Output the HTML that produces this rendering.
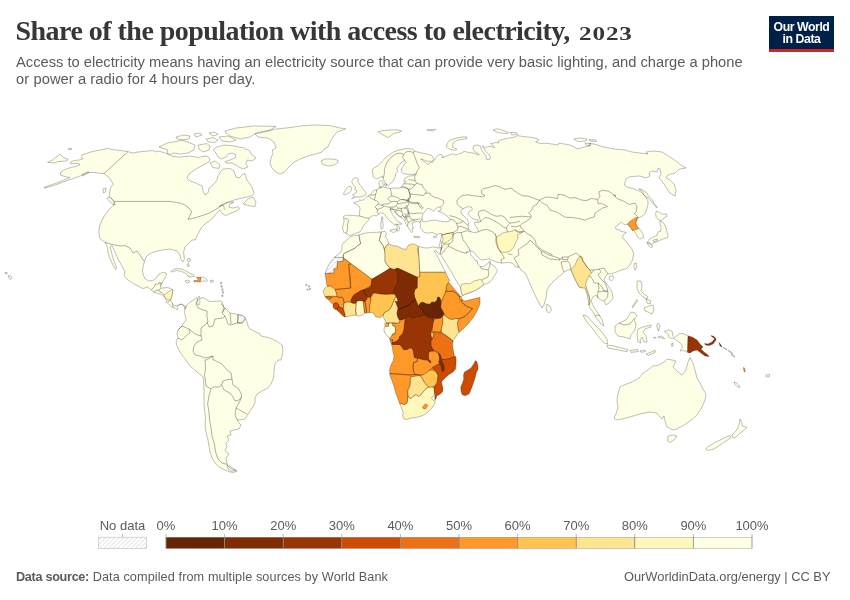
<!DOCTYPE html>
<html><head><meta charset="utf-8">
<style>
html,body{margin:0;padding:0;background:#fff;}
body{width:850px;height:600px;position:relative;overflow:hidden;font-family:"Liberation Sans",sans-serif;}
#title{position:absolute;left:15.5px;top:14.8px;font-family:"Liberation Serif",serif;font-weight:bold;font-size:28px;line-height:32px;letter-spacing:-0.53px;color:#373737;white-space:nowrap;}
#title .os{display:inline-block;font-size:19.8px;letter-spacing:0.7px;transform:scaleX(1.27);transform-origin:0 100%;margin-left:2.4px}
#sub{position:absolute;left:16px;top:53.6px;font-size:14.7px;line-height:17.8px;color:#5b5b5b;white-space:nowrap;}
#sub span{display:block;}
#s2{letter-spacing:0.08px}
#logo{position:absolute;left:769px;top:16px;width:65px;height:33px;background:#002147;border-bottom:3px solid #ce261e;color:#fff;font-weight:bold;font-size:12.3px;line-height:12.1px;text-align:center;letter-spacing:-0.45px}
#logo div{margin-top:5.2px}
#src{position:absolute;left:16px;top:569px;font-size:12.7px;letter-spacing:0.09px;line-height:16px;color:#5b5b5b;white-space:nowrap;}
#src b{font-weight:bold;letter-spacing:-0.32px}
#url{position:absolute;right:19.5px;top:569px;font-size:12.85px;line-height:16px;color:#5b5b5b;white-space:nowrap;}
svg{position:absolute;left:0;top:0}
.lg{font-family:"Liberation Sans",sans-serif;font-size:13px;fill:#5b5b5b}
</style></head><body>
<div id="title">Share of the population with access to electricity, <span class="os">2023</span></div>
<div id="sub"><span id="s1">Access to electricity means having an electricity source that can provide very basic lighting, and charge a phone</span><span id="s2">or power a radio for 4 hours per day.</span></div>
<div id="logo"><div>Our World<br>in Data</div></div>
<svg width="850" height="600" viewBox="0 0 850 600">
<defs><pattern id="hatch" patternUnits="userSpaceOnUse" width="3.2" height="3.2" patternTransform="rotate(45)"><rect width="3.2" height="3.2" fill="#fff"/><line x1="0" y1="0" x2="0" y2="3.2" stroke="#dcdcdc" stroke-width="1.4"/></pattern></defs>
<g stroke="#000" stroke-opacity="0.5" stroke-width="0.5" stroke-linejoin="round" fill="none">
<path fill="#FFFFE5" d="M128,151.6L120,150.4L112,149.6L108,148.4L100,150L92,151.6L86,153.6L82,155L81.6,157.6L83,159L79,160L74,160.6L70.4,162L71,164L77,163.2L80,164.4L76,166.4L69,168L63.6,170L60.6,172.4L60.4,175L65,176.6L70,177.6L66,179.2L58,182.4L50,185.4L44,187.4L44.4,188.2L54,185.4L66,181L76,177.6L82,175.2L88,172.6L94,172.4L99,173.2L104,173.6L107,176L110,178.4L112,182L113,184.4L111,187L110,190L109.6,193L109.2,196.4L112,199L114.4,201.4L113.6,205L109.6,209L105.6,214L102,220L99.6,226L98.8,232L99.6,238L101.4,240L105,242L107,246L108,252L109.6,258L112,263L114,267L116,269.6L116.4,267L114.4,262L112.4,256L111,250L110,247L112,245.6L115,252L118,259L122,266L125,272L124,276L128,280L134,284L139,286.5L143,288.5L147.5,287L151.5,290L154,292.2L158,293.5L162,294.8L164,296.5L166,299.5L166.5,302.5L169.5,304.5L171.5,307L173,307.5L175,308L177,310L178,309L177,307L179,305L181.5,304.5L184,306L185,309L186,306.5L184,305.3L181.5,304L179,304.6L176.5,305.8L174,305.5L172.5,303.5L171.5,301.5L170.5,300L171.5,297L172.5,293L173,290L171,288.5L167,287.5L163,288L161.5,288.2L160.5,286.5L162,284L163,281L165,278L166.5,275L166,273L162.5,272.5L159,274L157,277L155,279.5L152.5,280.5L148.5,281L145.5,279L143.5,276L142.5,271L143,267L143.5,265L144.4,261.6L146,257L149,254L154,252L160,250.4L170,249L177,251L180,255L181,260L183,262L184.4,259L183.6,252L185,247L189,243L192,240L195,240L197,236L199,232L201,228L205,224L209,221L213,218L216,214L220,210L222.4,213.6L225.6,215.6L230,213.6L236,211L239.6,209L238.4,206.6L233,208L229,207L230,204L234,202L228,202.4L223,205L219,206.4L224,203.6L234,200L240,198.6L247,197L252,195.6L254,193L252,187L247,180L245,173.6L243,174L239,178L236,177L234,171L230,168.4L223,169L221,171L218,176L217,180L213,185L209,188L208,193L205,195L203,191L202,186L196,183L190,181L187,178L189,174L196,169L203,165L209,162L210,159L207,156L203,156.4L198,157.4L190,156L178,157.2L170,155.6L168,154L162,152L158,151L155,152L153,150.4L150,150.8L144,151.4L138,152L132,153ZM47.6,162.4L52.4,160L60,154L64,158L68,159L67,161L58,161.6L55,163ZM68,149L71,148L72,149.2L69,150ZM107,198L109.6,197L114,201.6L115,205L112.4,204L109,201ZM103,189L106,188L105.6,192L103.6,193ZM82,174.4L88,171.6L89,172.4L83,176ZM159,147L166,143.6L170,142.4L176,141.6L182,140L190,143L195,145L194,150L188,153L180,154L174,153L170,154.4L167,153L168,150L162,148ZM176,137L184,135L190,136L189,139L182,140L177,139ZM194,134L200,133L202,135L196,137ZM206,139L213,137.6L218,140L215,142.4L208,142ZM209,133L215,132L218,134.4L213,136ZM198,145L207,143.6L210,146L209,150L203,152L199,149ZM225,131L236,128L254,126L276,126.4L270,130L256,133L250,137L240,139L230,136L226,133ZM219,137L228,136L236,140L230,142L222,141ZM217,147L224,145L234,146L244,148L250,151L251,154L256,158L252,161L247,160L246,164L248,167L243,169L239,167L236,165L232,163L226,163L225,161.6L230,160L235,158L236,155L232,153L228,154L226,157L221,159L218,157L216,153L213,150ZM210,163L215,161L220,165L219,168.4L213,167.6ZM255,134L264,132L276,129L290,127.6L300,126L314,125L330,125.6L340,128L345.62,128.75L342.5,130.25L337,132L333,137L330,142L328,147L324,149L322,152L316,154L308,156L300,159L293,163L288,168L284,172.4L280,174L275,171.6L272,168L270,163L271,158L273,153L272.4,150L276,148L274,142L268,138L258,137ZM321,161L325,159L332,159L337.6,160L338,162.4L334,165L328,166L323,164.4ZM243,204L248,199L253,197L256,202L255,206.4L250,206L247,205ZM171,271.5L173,269.5L177,268.5L182,269L186,271L190,273.5L194,275L194.5,276.5L191,276.8L188,276.5L187,274.5L184,272.5L180,271L176,270.5L173,272ZM185,281L187.5,280.2L189.8,281L189,282.5L186.5,282.8ZM200.53,277.34L203.36,277.06L206.18,279.18L207.59,280.41L206.18,281.3L202.65,281.01L200.18,282L200,281.82L200.6,279.18ZM210,280.5L213,280.2L213.8,281.5L211,282.5ZM187,259L190,258.4L190.4,261L188,261.6ZM187,264L189,263.6L189.2,266.4L187.6,266.4ZM8.4,275.6L11,276L12,278L10,279.6L8.8,278ZM5,272.6L7,272.4L7.2,274L5.6,274ZM185,309L186,307L187.5,304.5L190,302L194,299.5L198,297L199.5,296.5L200,298L198,299.5L197,302L197.5,304.5L199,305L200,302.5L199.5,300L201,298L203,297.5L206,299.5L210,301.5L221,301L223,303L221,304L225,308L230,313L236,314L241,315L245,317L247,322L248,326L250,329L256,332L260,334L261,336L270,338L278,342L282,345L283,350L282,356L281,360L278,360L275,364L274,370L273.6,378L271,384L268,388L262,391L257,394L255,398L255,403L252,408L249,412.4L247,416L245,419L240,420L237,419.6L239,423L241,425L239,429L234,430L230,431L231,435L227,436L229,440L226,443L227,447L225,450L227,453L229,454L226,458L227,464L231,467L237,471L234,472.4L230,472L224,469.6L219,467L215,463L212,458L210,452L209,446L208,440L206.4,434L205,426L205.6,418L204.4,410L204,400L204,390L203.6,380L203,377L196,371L190,366L186,360L183.6,357L180,352L177,346L176,342L178,338L177,334L178,330L182,326L186,320L185,314L184.5,313ZM227,465L230,468L236,470.6L231,471L228,469ZM614,418L616,420L622,419L630,417L640,414L650,412L657,413L660,417L662,419L664,416L665,421L667,427L673,430L677,429L684,425L690,421L696,416L701,409L705,400L706,394L703,389L700,383L697,378L695,370L693,363L690,357.6L688,362L686,370L682,375L677,371L673,367L676,361L672,360L667,359L664,362L659,365L653,366L648,370L643,373L639,378L632,382L624,385L620,387L618,394L617,400L618,408L616,414ZM668,436L673,435L677,436L674,440L670,442.4L667.6,441ZM732,435L736,431L739,425L740,419L741.6,422L742.4,426L747,427.4L743,431L739,434L736,437L733,438ZM705.6,449L709,446L716,442L724,438L730,435.6L731,437.6L726,441L720,445L714,449L708,450.6ZM734,382L737,383L740,387L738,387.4L735,384.4ZM766,375L769.6,374.4L769.2,376.8L766.4,377ZM688.34,335.82L685.17,334.41L682.34,333.49L679.52,333.7L677.76,335.11L675.99,336.52L674.58,337.58L673.17,336.17L672.46,335.11L672.82,332.64L671.76,330.88L668.93,329.96L666.11,330.88L664.35,331.58L666.82,333.35L668.93,335.11L667.88,336.17L669.64,337.58L671.05,338.64L673.17,338.29L674.93,338.99L677.4,341.11L680.23,342.88L681.99,345.35L682.34,347.82L680.58,349.93L680.23,350.99L683.05,350.64L685.52,350.99L687.28,352.05ZM723,347.6L725,348L727,349.6L725,349.2ZM728,350.4L731,351.6L732.4,353.6L730,352.4ZM731,354L733.6,355L735,357L732.4,356ZM220.4,282.2L221.6,282.2L221.6,283.8L220.4,283.8ZM221,285.6L222.2,285.6L222.2,287.2L221,287.2ZM221.8,288.8L223,288.8L223,290.4L221.8,290.4ZM222.4,291.6L223.6,291.6L223.6,293.2L222.4,293.2ZM221.8,294.8L223,294.8L223,296.4L221.8,296.4ZM305.8,284.4L307,284.4L307,285.6L305.8,285.6ZM308.4,285.8L309.6,285.8L309.6,287L308.4,287ZM309.4,288.4L310.6,288.4L310.6,289.6L309.4,289.6ZM307,289L308.2,289L308.2,290.2L307,290.2ZM343.75,232.5L342.5,227.5L343.76,223.04L344.18,220.53L343.34,218.44L343.76,216.35L344.18,215.94L347.52,215.1L352.53,215.52L356.71,215.77L359.21,215.94L359.63,211.76L360.05,208.42L358.8,205.91L356.71,204.24L354.2,203.4L353.78,202.57L356.29,201.73L358.8,201.32L359.63,199.64L360.89,200.48L363.81,199.64L365.9,197.56L367.99,195.89L370.49,194.63L372.16,192.13L373.83,190.46L376.76,189.62L378.43,188.78L379.68,187.11L379.26,185.03L378.85,182.94L379.68,181.27L381.77,180.43L383.02,181.68L382.61,183.77L383.44,185.44L382.19,186.7L384.28,187.53L387.2,187.95L390.13,188.37L393.75,188.12L398.75,188.12L401.88,187.5L402.5,185L405,182.5L406.25,181.25L403.75,181.25L405,178.12L408.12,176.25L413.12,175.62L416.25,173.75L413.75,174.38L408.12,174.38L403.75,173.75L401.25,171.88L401.88,168.12L403.75,165L406.25,162.5L405,160.62L401.88,161.88L399.38,165L396.88,168.12L397.5,171.88L395.62,173.75L395,177.5L393.12,181.25L390,183.75L388.12,185.62L385.62,183.75L383.75,180L383.12,178.12L382.5,176.25L380,177.5L376.25,178.75L373.12,176.88L372.25,170L373.75,168.12L378.12,165.62L381.88,161.88L385,158.12L388.75,155L393.75,151.88L398.75,150L403.75,149L408.75,148.5L413.12,149.38L415,151.25L420,152.75L426.25,153.75L431.88,155.62L433.75,158.75L432.5,161.25L427.5,161.25L422.5,159.38L420.62,158.75L423.75,161.25L426.25,163.12L428.75,164.38L430,162.5L433.12,161.88L436.25,157.5L438.12,155L441.25,154.38L443.12,156.88L441.88,157.5L445,156.88L449.38,155L453.12,153.75L455,155L458.75,154L463.12,152.5L463.75,151.25L468.75,152.5L473.75,153.12L478.12,155L479.38,154.38L475,151.88L472.75,149L473.75,145.62L477.5,145L480.62,146.25L481.25,150L483.75,153.12L486.25,156.25L486.5,159.38L489.38,159.75L490.62,156.88L488.12,153.75L485.62,151.25L483.75,148.12L482.5,145.62L485.62,148.12L486.88,146.88L490,146.25L494.38,147.5L492.5,145L490.62,143.5L496.25,142.5L498.75,143.12L498.12,141.25L502.5,139.38L508.12,138.12L513.75,137.5L517.5,135.62L521.25,136.25L526.25,136.88L532.5,137.5L537.5,138.75L538.75,140L535.62,141.88L538.75,143.12L542.5,143.5L546,143.12L558,145L559,143L570,145L578,149L584,147L590,146L589,143.6L594,144L604,147L614,149L625,150L632,152L640,153L648,154L646,152L654,151L662,152L670,157L676,161L680,164.4L686,168L680,169L678,170L675,173L668,175L666,178L670,180L674,184L676,190L675,196L670,193L667,189L664,184L661,180L659,178L661,174L660,169L658,168.4L657,172L652,171L649,173L650,176L646,178L640,176L630,176.6L626,179L624.4,185L627,187L635,189L641,192L646,197L648,201L648,204L646.88,208.75L645,213.75L641.25,216.88L638.12,217.5L636.88,220L635.62,223.12L636.88,226.25L638.75,228.12L641.25,231.25L643.5,235L643.75,237.5L640,239L637.5,236.88L635.62,233.12L633.75,230.25L632.5,230.62L630.62,227.5L628.75,225.62L627.5,224L625,225L622.5,223.12L621.25,221.88L618.75,224.38L615,227.25L616.25,229.38L620,230L620.62,231.25L623.75,231.88L626.25,232.5L623.12,235L622.5,238.12L625,240L628.75,245L631.88,248.75L633.75,253.75L632.5,260L630,265L626.25,268.75L621,270L614,273L608,274L605,277L604,280L606,283L609,287L612,292L613,298L610,302L606,305L604,301L601,300L598,298L596,295L593,297L591,301L593,305L595,309L598,313L600,316L603,322L603.6,326L601,324L598,320L595,316L593,312L590,308L589,305L590,301L589,296L587,290L585,285L583,288L579,287L577,283L574,277L572.4,273L571,269.6L568,270L564,272L561,275L556,279L550,285L547,290L546,298L544,305L542,308L539,303L535,295L531,286L528,279L525,273L521,270L518,265L518.75,267.5L515,266.25L512.5,263.12L507.5,262.5L501.25,263.12L496.25,261.88L491.25,260L490,258.75L486.25,259.38L481.25,260L477.5,256.88L473.75,251.88L470,250.62L470.62,254.38L473.75,258.75L476,261.25L476.25,260.38L477.5,261.25L477.5,263.75L478.75,265L480,266.25L483.12,266.88L487.5,263.75L490,260.62L490.62,263.75L495,266.88L497.5,270.62L495,275L492.5,278.75L489.38,282.5L483.75,284.75L480,287.5L475,290.62L470,292.5L465,294.38L462.5,295.62L461.5,292.5L460.62,287.5L458.12,283.75L455,278.75L452.5,273.75L449.38,268.75L446.25,263.75L443.12,258.75L440.62,254.38L438.75,248.12L440,242.5L441.25,237.5L441.88,233.12L440,233.75L436.25,234.38L432.5,232.5L427.5,233.12L423.12,231.88L421.88,229.38L420,226.88L420.62,223.75L420,222.5L418.12,221.25L415,221.88L411.88,223.12L412.5,225.62L413.75,228.12L411.88,228.75L413.12,231.25L411.25,232.5L409.38,229.38L407.5,226.25L405.62,223.75L405,220.62L403.12,218.75L400,216.25L396.88,213.75L393.75,210.62L392.5,208.12L390,209L391.25,211.25L392.5,214.38L395,218.12L397.5,221.25L401.25,223.12L401.88,224.38L398.75,224L395.62,225.25L397.75,227.25L396.88,229.38L398.12,231.5L399.75,229.38L399,226.5L396.88,224L394.3,224.71L391.8,222.62L389.29,220.53L386.78,217.61L385.11,215.1L383.44,213.43L380.94,213.01L378.43,214.26L376.76,215.94L373.83,215.52L371.33,216.35L369.24,218.02L368.82,220.11L366.73,222.2L364.64,224.29L363.12,226.25L361.88,229.38L360,231.88L356.25,233.12L351.88,235L349.38,235.62L347.5,233.75L345.62,233.12ZM351.7,198.81L353.78,197.56L356.71,197.14L360.89,196.72L365.06,195.47L366.32,192.96L365.06,191.71L363.81,190.04L362.56,188.37L361.3,186.28L359.63,184.61L358.8,182.52L357.54,180.85L358.8,179.18L356.71,177.92L354.2,177.92L352.53,179.59L351.7,182.1L352.95,184.19L354.2,185.86L355.46,187.53L354.62,189.62L356.71,190.46L356.29,192.54L353.78,193.8L352.53,195.05L354.62,195.89L353.37,197.14ZM343.34,194.21L344.59,191.71L346.27,188.78L348.35,186.7L350.44,186.28L351.7,187.95L351.28,190.46L350.03,192.13L347.94,193.38L345.43,194.63ZM390,230L393.75,229.38L396.88,229L396.25,231.25L393.75,232.5L390.62,231.5ZM380.94,221.78L382.61,221.37L383.27,225.13L382.77,228.47L381.35,229.3L380.77,225.96ZM381.35,217.19L382.61,216.77L383.02,220.11L381.77,220.78ZM384.28,184.19L386.37,183.77L386.78,185.86L385.11,186.28ZM433.12,236.88L436.25,235.62L436.88,236.88L434.38,238.12ZM413.75,236.25L419.38,236.5L419.38,237.75L414.38,237.5ZM378.12,131.88L382.5,130.62L390,130L396.25,129.75L401.88,131L398.75,132.5L395,133.12L392.5,134.38L390,136.25L387.5,137.5L384.38,135.62L380.62,133.75ZM426.88,129.75L435.62,129.38L433.75,131L428.75,130.62ZM446.25,146.88L447.5,143.12L450,140L456.25,138.12L462.5,136.88L466.88,136.88L466.88,138.5L461.88,139.38L456.25,140.62L453.12,143.12L452.5,146.88L456.88,149.38L455,150.25L450,149.38ZM493.12,130L497.5,128.75L503.75,130.62L508.75,132.5L507.5,133.5L501.25,133.12L496.25,131.88ZM510,132.5L516.25,132.5L517.5,134.38L511.88,135ZM574,139L580,138L587,139L586,141L578,141.6ZM589,139.6L596,140L596.4,141.6L590,141ZM585,143L591,143.6L590,145.6L586,145ZM643.75,195L647.5,197.5L651.25,201.25L654.38,205L656.88,208.12L657.5,207.5L654.38,203.75L652.5,200L648.75,196.25L646,192L642,189.6L639,189L643,192ZM656.25,211.25L658.75,211.88L662.5,214.38L666.25,213.75L666.88,216.25L663.75,218.12L661.25,220.62L658.75,220L656.25,217.5L655.62,213.75ZM547,304L550,306L551.6,310L549,313L546.4,311ZM634.38,263.5L636.25,263.12L636.5,267.5L635.25,270.25L633.75,267.5ZM609.4,276.4L613,275.6L614,278.4L611.6,280.8L609.2,279.2ZM583,315L587,316L594,324L602,332L607,339L607.6,344L604,343L598,336L592,328L586,321ZM607,345L614,346L622,348L628,349.6L627,351.6L618,350L608,348ZM615,326L619,323L626,320L631,312L635,313L637,316L634,319L636,324L635,330L631,335L630,339L624,337L618,336L615,332ZM638,329L643,327L651,325L651,327L645,329L643,332L646,336L647,342L644,342L642,337L640,340L641,343L638,342L637,335ZM637,281L641,281L642,286L641,291L644,294L648,297L647,299L643,297L639,293L637,288ZM644,308L649,306L653,305L654,310L652,314L648,312L645,311ZM646,299L651,301L650,304L647,303ZM632,307L637,299.6L637.6,300.4L633,307.6ZM630,350.4L638,349.6L638.4,351.6L631,352.4ZM640,351L645,350L645.6,351.6L641,352.4ZM646,354L655,350.4L655.6,352L648,355.6ZM656.94,324.17L658.7,323.47L659.76,325.59L659.41,327.7L658.49,331.23L657.64,329.11L656.94,327ZM658.35,336.52L661.17,336.17L663.64,337.23L664.56,338.64L661.88,337.94L658.7,337.72ZM653.41,337.23L656.23,337.44L655.17,338.64ZM671.62,343.58L673.17,343.23L673.03,346.05L671.76,346.4ZM660,221.25L662.5,221.88L665,225L666.25,229.38L668.12,235L667.5,237.5L663.75,238.75L660,240.25L656.88,241.88L654.38,242.5L651.88,244.38L650,243.12L647.5,242.5L649.38,239.38L653.12,236.88L656.88,235.62L658.12,231.88L660.62,231.25L661.25,227.5L660,224.38ZM646.88,242.5L649.38,243.75L651.88,245L652.5,246.88L650.62,247.5L648.75,245.62ZM653.12,240.25L657.5,239L657.25,240.62L653.75,241.88Z"/>
</g>
<g stroke="#000" stroke-opacity="0.5" stroke-width="0.5" stroke-linejoin="round" fill="none">
<path fill="#E8821E" stroke="none" d="M323.77,291.08L324.66,293.76L324.66,293.76L325.6,296.12L325.65,296.26L325.68,296.41L325.7,296.54L326.93,297.93L328.64,298.79L328.77,298.86L328.88,298.94L328.99,299.03L329.08,299.12L329.17,299.23L330.53,301.04L330.53,301.04L333.26,303.77L333.36,303.88L333.45,304L333.52,304.12L333.59,304.26L333.64,304.4L333.67,304.54L333.69,304.68L333.7,304.83L333.7,306.77L334.96,308.45L336.7,309.32L336.82,309.34L336.96,309.38L337.1,309.44L337.24,309.51L337.37,309.6L337.48,309.69L339.96,311.97L340.01,312.02L342.95,314.96L345.01,316.36L345.05,316.34L345.18,316.3L345.32,316.27L347.85,315.82L347.86,315.81L351.76,314.84L351.89,314.81L352.02,314.8L355.77,314.52L355.92,314.51L356.06,314.52L356.21,314.55L356.35,314.58L356.49,314.64L356.62,314.7L356.74,314.78L356.86,314.87L356.86,314.88L358.96,315.46L361.69,314.37L364.04,312.96L364.09,312.9L364.2,312.8L364.31,312.72L364.44,312.65L364.56,312.58L364.7,312.53L364.83,312.5L364.98,312.47L366.42,312.3L366.42,312.31L366.53,312.29L366.66,312.3L369.31,311.82L369.44,311.81L369.57,311.8L371.73,311.8L371.87,311.81L372.01,311.83L372.14,311.86L372.27,311.9L372.4,311.96L372.52,312.02L372.63,312.1L374.29,313.35L374.41,313.44L374.51,313.54L374.6,313.65L374.68,313.77L375.98,315.94L378.1,316.79L380.71,316.53L381.56,315.8L381.68,315.71L381.8,315.64L381.93,315.57L382.07,315.52L382.21,315.48L382.35,315.46L382.49,315.44L382.64,315.45L382.78,315.46L382.93,315.5L383.06,315.54L383.2,315.6L383.32,315.67L383.44,315.75L383.55,315.84L383.66,315.95L383.75,316.06L383.83,316.18L383.89,316.31L383.95,316.44L383.99,316.58L384.16,317.25L385.41,319.65L385.46,319.75L386.47,322.11L386.52,322.25L386.55,322.39L386.58,322.54L386.59,322.69L386.58,322.83L386.56,322.98L386.53,323.12L386.48,323.26L386.41,323.4L386.34,323.53L386.25,323.65L386.15,323.76L386.04,323.86L385.92,323.94L385.8,324.02L385.66,324.08L385.61,324.11L385.84,325.59L385.86,325.74L385.86,325.89L385.85,326.04L385.82,326.19L385.77,326.34L385.72,326.48L385.64,326.61L385.56,326.73L385.46,326.85L385.4,326.91L384.71,329.09L384.87,331.52L385,331.61L385.11,331.72L385.22,331.83L385.31,331.96L387.06,334.57L387.06,334.58L389.93,337.93L390.02,338.04L390.1,338.16L390.16,338.29L390.21,338.43L390.66,339.76L390.68,339.82L391.6,343.04L391.64,343.07L391.75,343.17L391.85,343.28L391.94,343.4L392.02,343.53L392.08,343.66L392.13,343.8L392.17,343.94L392.19,344.09L392.2,344.13L392.21,344.18L392.21,344.32L392.21,344.44L393.16,347.75L393.18,347.86L393.2,347.97L393.69,351.87L393.69,351.87L394.64,355.69L394.67,355.82L394.68,355.96L394.69,356.1L394.68,356.24L394.21,359.95L394.18,360.12L394.13,360.28L394.06,360.44L391.65,365.26L390.21,370.05L390.58,372.6L390.59,372.75L390.59,372.9L390.58,373.04L390.55,373.19L390.5,373.33L390.44,373.47L390.37,373.6L390.29,373.72L391.16,376.77L391.16,376.78L393.14,381.72L393.17,381.8L395.15,387.75L395.19,387.86L396.67,393.78L396.67,393.79L398.65,398.73L398.66,398.76L400.15,402.75L400.15,402.75L401.15,405.23L401.15,405.23L402.63,408.68L402.68,408.84L403.81,412.59L403.85,412.75L403.87,412.9L403.87,413.06L403.86,413.21L403.83,413.37L403.24,415.91L404.47,418.37L406.93,418.78L410.66,417.38L410.78,417.34L410.91,417.31L411.03,417.29L415.88,416.81L415.88,416.81L419.77,415.84L424.15,413.89L427.55,411.46L430.47,408.54L430.47,408.54L433.38,404.65L434.49,401.89L434.35,399.92L434.35,399.77L434.36,399.62L434.38,399.47L434.43,399.33L434.48,399.19L434.55,399.06L434.63,398.93L434.73,398.82L434.83,398.71L434.95,398.61L435.07,398.53L435.2,398.46L435.34,398.4L435.39,398.39L435.74,396.29L435.77,396.15L435.81,396.01L435.87,395.88L435.94,395.76L436.02,395.64L436.1,395.53L436.2,395.43L436.31,395.34L436.43,395.26L436.55,395.19L439.11,393.91L441.85,391.63L442.29,389L441.82,386.17L440.91,383.44L440.87,383.31L440.85,383.17L440.83,383.03L440.83,382.88L440.85,382.74L440.88,382.6L441.27,381.05L441.31,380.92L441.36,380.79L441.42,380.67L441.49,380.56L441.57,380.45L441.66,380.35L444.49,377.52L444.56,377.46L448.49,374.02L448.58,373.94L448.68,373.87L452.53,371.47L454.82,368.72L455.1,365.94L455.1,365.94L455.5,360.02L455.18,357.2L455.16,357.2L455.01,357.19L454.86,357.17L454.72,357.14L454.58,357.09L454.45,357.02L454.32,356.95L454.2,356.86L454.1,356.76L454,356.65L453.91,356.53L453.83,356.41L453.77,356.28L453.72,356.14L453.68,355.99L452.32,349.17L452.3,349.06L451.82,345.19L451.81,345.06L451.81,344.94L451.82,344.81L452.28,341.1L452.31,340.96L452.34,340.83L452.39,340.7L452.45,340.57L452.52,340.45L457.85,332.46L457.94,332.34L458.04,332.23L458.16,332.13L458.28,332.04L458.41,331.96L458.55,331.9L458.67,331.86L462.52,328.49L462.52,328.49L467.48,323.53L467.48,323.53L472.42,317.6L476.37,310.69L476.37,310.68L479.3,303.86L479.3,298.33L477.14,298.69L477.14,298.69L465.46,301.61L465.31,301.64L465.16,301.65L465.01,301.65L464.85,301.63L464.71,301.6L464.56,301.55L464.42,301.49L462.05,300.31L461.93,300.24L461.81,300.16L461.7,300.07L461.6,299.97L461.52,299.86L461.44,299.74L461.37,299.62L461.31,299.49L461.27,299.35L461.24,299.21L460.92,297.27L460.87,297.26L460.72,297.24L460.58,297.19L460.45,297.14L460.32,297.07L460.2,296.99L460.08,296.9L459.98,296.79L459.88,296.68L458.95,295.44L458.95,295.44L452.97,288.46L452.96,288.44L450.47,285.45L450.45,285.43L448.52,283.02L448.43,282.9L448.36,282.77L448.3,282.64L448.25,282.5L448.22,282.35L448.2,282.2L448.19,282.05L448.2,281.91L448.23,281.76L448.27,281.61L448.32,281.48L448.39,281.34L448.47,281.22L448.92,280.58L446.67,276.64L446.58,276.46L444.99,272.55L444.98,272.54L442.5,267.83L442.49,267.8L439.38,261.58L439.38,261.58L436.27,255.97L434.24,252.42L434.18,252.29L434.12,252.15L434.08,252.01L434.06,251.86L434.05,251.71L434.05,251.56L434.07,251.42L434.1,251.27L434.15,251.13L434.21,251L434.28,250.87L434.37,250.75L434.47,250.63L434.58,250.53L434.7,250.44L434.82,250.36L434.96,250.3L435.1,250.25L435.24,250.21L435.39,250.19L435.53,250.18L435.68,250.18L435.83,250.2L435.97,250.24L436.11,250.29L436.25,250.35L436.38,250.43L436.5,250.52L436.61,250.62L439.19,253.2L439.94,251.67L440.41,248.43L439.14,248.74L439.01,248.77L438.87,248.79L438.72,248.79L438.58,248.77L438.45,248.75L438.31,248.71L436.72,248.18L432.54,247.59L427.81,248.76L427.68,248.79L427.54,248.81L427.4,248.81L427.27,248.8L422.48,248.2L422.36,248.18L422.25,248.16L418.03,246.95L417.91,246.91L417.78,246.86L417.67,246.8L414.75,245.05L411.39,244.48L408.66,246.12L407.14,249.16L407.07,249.29L406.98,249.41L406.89,249.52L406.78,249.62L406.67,249.71L406.54,249.79L406.41,249.86L406.28,249.91L406.13,249.95L405.99,249.98L405.84,249.99L405.7,249.99L405.55,249.97L402.5,249.46L402.36,249.43L402.22,249.38L402.08,249.32L397.29,246.93L392.55,246.33L392.38,246.3L392.22,246.25L392.07,246.19L388.75,244.53L388.62,244.46L388.49,244.37L388.37,244.26L388.27,244.15L388.18,244.03L388.1,243.89L388.03,243.75L387.98,243.6L386.87,239.73L385.06,237.72L384.97,237.6L384.88,237.47L384.81,237.34L384.76,237.2L384.72,237.05L384.69,236.9L384.68,236.75L384.68,236.6L384.7,236.45L384.74,236.3L384.78,236.16L385.72,233.81L384.65,232.02L381.39,232.57L381.29,232.58L377.59,232.94L377.5,232.95L371.3,233.2L371.3,233.2L365.14,233.81L359,235.66L358.81,235.7L351.51,236.92L349.83,238.04L347.41,240.46L347.28,240.57L344.29,242.97L342.58,245.81L342.58,248.6L342.57,248.74L342.55,248.88L342.52,249.02L342.47,249.16L341.33,251.99L341.27,252.13L341.19,252.26L341.1,252.38L341,252.49L338.65,254.84L338.5,254.97L336.37,256.61L342.3,256.78L342.45,256.79L342.59,256.81L342.73,256.85L342.87,256.9L343,256.97L343.12,257.05L343.23,257.14L343.34,257.23L343.44,257.34L343.52,257.46L343.59,257.59L343.65,257.72L343.7,257.86L343.73,258L343.75,258.14L343.76,258.29L343.75,258.43L343.52,260.65L343.49,260.8L343.46,260.95L343.4,261.09L343.34,261.22L343.26,261.35L343.17,261.47L343.07,261.58L342.95,261.68L342.83,261.76L342.7,261.84L342.56,261.9L342.42,261.94L342.27,261.98L342.13,261.99L337.92,262.28L337.62,267.75L337.6,267.9L337.57,268.04L337.52,268.18L337.47,268.32L337.39,268.45L337.31,268.58L337.21,268.69L337.1,268.8L336.99,268.89L336.86,268.97L336.73,269.04L336.59,269.09L336.44,269.13L336.29,269.15L334.45,269.37L334.45,272.02L334.44,272.16L334.42,272.31L334.38,272.45L334.33,272.59L334.27,272.73L334.19,272.86L334.1,272.97L334,273.08L333.89,273.18L333.77,273.27L333.64,273.35L333.51,273.41L333.37,273.46L333.23,273.49L333.08,273.51L325.81,274.13L326.31,277.38L326.94,281.12L326.94,281.16L327.55,285.38L327.57,285.41L327.63,285.55L327.68,285.68L327.71,285.83L327.73,285.97L327.73,286.12L327.72,286.26L327.7,286.41L327.66,286.55L327.61,286.69L327.54,286.82L327.47,286.94L327.38,287.06L327.28,287.16L327.17,287.26L325.04,288.97L323.77,291.08ZM461.51,387.13L461.7,390.88L462.58,393.99L464.99,395.03L468.47,393.47L470.35,389.24L470.35,389.24L472.34,383.77L472.34,383.77L474.33,377.81L474.33,377.8L475.79,371.96L475.84,371.8L475.9,371.65L475.99,371.51L477.11,369.78L477.3,366.07L476.37,362.36L475.69,361.68L475.14,362.79L475.08,362.89L473.61,365.34L473.57,365.4L471.67,368.26L471.58,368.37L471.48,368.48L471.37,368.58L471.26,368.67L468.41,370.57L468.32,370.62L465.08,372.48L464.21,375.09L464.49,378.79L464.49,378.94L464.48,379.08L464.46,379.23L464.42,379.37L463.18,383.18L463.13,383.31L461.51,387.13Z"/>
</g>
<g stroke="#000" stroke-opacity="0.5" stroke-width="0.5" stroke-linejoin="round" fill="none">
<path fill="#FFF7BC" d="M164,295L167.5,292.5L171.5,289.8L173,290L172.5,293L171.5,297L170.5,300L167.5,299.5L165,297.5ZM356.5,301.2L360,300.5L363.2,301L363.5,304L364,308L364.2,311L364.5,313.5L362,315L359,316.2L356.5,315.5L356,312L355.8,308L356.2,304.5ZM399.5,403L401.5,403.5L404.5,404.5L407,403L407.5,400L407.8,395L409,397.5L411,398.5L413.5,396L416,394.5L419,396.5L421,394.5L423.5,391.5L426,388.5L429,387L432,387L434,387.5L434.5,391.5L435,395.5L435,399.2L435.2,402L434,405L431,409L428,412L424.5,414.5L420,416.5L416,417.5L411,418L407,419.5L404,419L402.5,416L403.2,413L402,409L400.5,405.5ZM496.25,236.88L500,235L503.75,232.5L507.5,231.88L512.5,231.25L515,229.38L516.88,231.88L520,232.5L523.12,231.88L520,233.75L517.5,235L518.12,238.12L516.25,241.25L515,244.38L513.12,248.12L510,251.25L505,252.5L500,251.88L498.12,248.12L496.25,243.75L495.62,240ZM441.88,235L446.25,233.75L453.12,232.5L453.75,235L451.88,238.12L449.38,240.62L446.25,242.5L443.75,243.75L442.5,241.88L443.12,238.75ZM460.62,287.5L461.5,284.38L465,283.5L470,283.75L473.75,281.25L480,279.38L481.88,280L483.75,284.38L480,287.5L475,290.62L470,292.5L465,294.38L462.5,295.62L461.5,292.5Z"/>
<path fill="#FE9929" d="M196.47,277.24L200.53,277.34L200.6,279.18L200,281.82L194,281.82L193.9,280.41L197.99,280.52L197.88,278.47L196.65,277.84ZM743.4,367.6L744.6,368L745.2,372L744,371.6ZM325,273.5L333.75,272.75L333.75,268.75L336.88,268.38L337.25,261.62L342.75,261.25L343.12,257.75L351.25,263.75L348.75,264.38L349.38,275L350.38,288.12L336.88,289.38L335,290L333.12,288.12L330,286.25L326.88,285.62L326.25,281.25L325.62,277.5ZM351.25,263.75L371.88,279L371.25,285L370,287.5L365,289.38L363.12,290L372,285L370,287.5L366,289.5L363,290.2L361,290.5L358,292.5L354.5,294.5L352.5,297L351,300.2L351.2,302.5L349,302L346.5,302.2L344.2,303L343.5,299.5L342,297L339.5,297.5L336.5,296.5L336.8,295.5L336,292.5L335,289.5L340,289L350.8,288L350.5,278L348.75,264.38ZM328.5,299.5L330.5,298.5L331.5,297L336.5,296.5L339.5,297.5L342,297L343.5,299.5L344,302.5L343.5,305.5L343.2,308.5L342,308L340.5,307.5L338.8,307L338.8,306.5L338.5,304.2L337,302.8L335,303L333,304.5L331.5,303L330,301.5ZM363.5,301.2L365,302L365.8,306L366.2,310L366.5,313L364.8,313.2L364.2,308L363.8,304ZM365,302L366.5,299L369,297L370.5,298L371,300.5L370,304L369.5,308L369.5,312.5L366.7,313L366.2,308L365.8,305ZM398,320L400,320L403,319.5L405.5,318L405,321L404.5,325L404,330L402.5,334L401,338L400,336L398.5,340L395,342L392,342.8L392.5,339.5L390,340L389.5,338.5L391.5,335.5L395,334L396,330L395.5,330L395,326.5L392.8,326L392.5,323.2L397,323L400,322.5ZM434,319.5L437,318.5L440.5,318L442.5,316.5L443,320L442.8,324L441.5,328L441,331.5L438,332L434.5,332L432,332.5L432.5,328L433,323ZM441.5,301.5L443,298L444.5,294L446,291L449,291.5L453,291L456,293L459,296.5L460,299.5L461.5,301.5L464,304.5L468,307L472.5,308.5L469,312.5L465,316.5L459,318.8L456,318.5L453,319.5L449.5,319L446,316.5L444,315L444,313.5L442,310L440.5,307L441,304ZM446.2,287.5L447,284.5L449,282.5L451,285L453.5,288L456.5,291.5L459.5,295L461,297L459.5,296.5L456,293L453,291L449,291.5L446,291ZM462,299.5L465,301L471,299.5L477,298L480,297.5L480,304L477,311L473,318L468,324L463,329L459,332.5L457.8,328L457.5,322L459,319L465,316.5L469,312.5L472.5,308.5L468,307L464,304.5L461.5,301.5ZM391.5,344.5L394,344.5L400,344.5L402,347L403.5,349.5L407,349.5L409.5,348L412,348L413.5,351L414,355L414.5,357.5L417.5,358.2L417,361.5L413.5,362.5L413,367L413.5,371.5L415,374.5L410,375L405,374.5L399,374L394,373.7L390,373.5L389.5,370L391,365L393.5,360L394,356L393,352L392.5,348ZM390,340L392.5,339.5L392.2,342.8L391,343.5ZM417.5,358.2L421,359L424.5,359.8L427.5,360L429.5,362L430.5,363.2L430.7,361L428.8,360L428.3,356L428.7,352.2L431.2,351L434.5,351L438,352.5L439,355L439.5,358.5L439,362L438,364.5L435,366L432,367.5L430,369.5L427.5,372L425.5,374.5L422,375L418,374.5L415,374.5L413.5,371.5L413,367L413.5,362.5L417,361.5ZM389.5,373.5L394,374L400,374.2L406,374.8L410,375L414,374.5L418,374.5L420,375.5L416,376L410.5,377L410.3,382L410,386L408,390L407.8,395L407.5,400L407,403L404.5,404.5L401.5,403.5L399.5,403L398,399L396,394L394.5,388L392.5,382L390.5,377ZM627.5,224L630,221.25L633.12,219.38L635.62,217.5L637.75,217.5L636.88,220L635.62,223.12L636.88,226.25L638.75,228.12L636.88,229.38L633.75,230L632.5,230.62L630.62,227.5L628.75,225.62Z"/>
<path fill="url(#hatch)" d="M238,315L243,315.6L245.6,319L242,323L238,323ZM334.38,257.25L343.12,257.5L342.75,261.25L337.25,261.5L336.88,268.12L333.75,268.75L333.75,272.75L325,273.25L326.88,268.75L328.75,265L331.25,261.25L333.12,258.75Z"/>
<path fill="#993404" d="M688,336L692,337L697,340L700,344L703,347L701,349L704,352L708,355L709,356.6L705,356L701,353L697,350L693,351L690,353L687.6,352.4ZM704.4,343.6L708,344L712,342L714.4,339L715.6,338L716,340L713,344L709,345.6L705.6,345ZM711,335.6L714,336.4L715.6,338.4L714.4,338.4L712,336.8ZM719,342.4L721,345L722,347L720,346ZM371.88,279L378.75,275L385,271.25L390,268.12L394.38,269.38L396.88,270.62L398.12,275L397.5,283.75L395,287.5L394,291.25L395.5,294.5L392,294L387,294.5L382,294.2L377,293.5L374,293L372.5,294.5L371,297L369,297L367.5,296.5L365,293.5L363,290.2L366,289.5L370,287.5L372,285L371.25,285ZM351,300.2L352.5,297L354.5,294.5L358,292.5L361,290.5L363,290.2L365,293.5L367.5,296.5L366.5,299L365,301.8L363.2,301L360,300.5L356.5,301.2L355.8,303.2L353,303.5L351.2,302.5ZM405.5,318L407,316.5L410,316.5L413,318L416,316.5L419,316.5L422,315.5L425.5,315L427.5,317L430.5,317.5L433.5,318L434,320L433,323L432.5,326L431.5,330L430.5,333L431.5,336.5L432.5,338.5L431,341L431,345L432.5,348.5L434,351L431,351L428.5,352L428.2,356L428.5,360L430.5,361L430.5,363L429.5,362L427.5,360L424.5,359.8L421,359L418,358L414.5,357.5L414,355L413.5,351L412,348L409.5,348L407,349.5L403.5,349.5L402,347L400,344.5L394,344.5L391.5,344.2L392,342.8L395,342L398.5,340L400,336L402.5,334L404,330L404.5,325L405,321Z"/>
<path fill="#FFFFE5" d="M358.75,235L359.38,237.5L360,241.25L360.62,243.75L357.5,245.62L355,248.12L351.25,250L347.5,251.88L344.38,253.12L343.12,255L343.12,257.5L334.38,257.25L338.12,254.38L340.62,251.88L341.88,248.75L341.88,245.62L343.75,242.5L346.88,240L349.38,237.5L351.25,236.25ZM358.75,235L365,233.12L371.25,232.5L377.5,232.25L381.25,231.88L380,237.5L379.38,240.62L383.12,245.62L384.38,249.38L385,253.12L385,261.25L386.88,264.38L390,268.12L385,271.25L378.75,275L371.88,279L351.25,263.75L343.5,257.75L343.25,255L344.38,253.12L347.5,251.88L351.25,250L355,248.12L357.5,245.62L360.62,243.75L360,241.25L359.38,237.5ZM381.25,231.88L385,231.25L386.5,233.75L385.25,236.88L387.5,239.38L388.75,243.75L386.25,245.62L384.38,249.38L383.12,245.62L379.38,240.62L380,237.5ZM418.12,246.25L422.5,247.5L427.5,248.12L432.5,246.88L436.88,247.5L438.75,248.12L441.25,247.5L440.62,251.88L439.38,254.38L436.88,251.88L435.62,250.62L434.38,251.25L436.88,255.62L440,261.25L443.12,267.5L445.62,272.25L419.75,272.25L418.75,256.25ZM388.5,323.5L390,323L392.5,323.2L392.8,326L395,326.5L395.5,330L395,333L392.5,334L391.5,336L390,338L389.5,338.5L386.5,335L384.5,332L384.2,332L384,329L384.8,326.5L388.5,326.2Z"/>
<path fill="#FEE391" d="M388.75,243.75L392.5,245.62L397.5,246.25L402.5,248.75L406.25,249.38L408.12,245.62L411.25,243.75L415,244.38L418.12,246.25L417.75,250L418.75,256.25L419.75,272.25L419.75,276.88L417.25,277.25L397.5,268.12L394.38,269.38L390,268.12L386.88,264.38L385,261.25L385,253.12L384.38,249.38L386.25,245.62ZM323,291L324.5,288.5L327,286.5L330,286L333,287.5L335,289.5L336,292.5L336.8,295.5L336.5,296.5L333,296.2L329,296.2L325,296.5L324,294ZM344.2,303L346.5,302.2L349,302L351,302.5L353,303.5L355.5,303.5L356,306L355.5,310L355.8,313.5L356,315.2L352,315.5L348,316.5L345.2,317L344.8,313L343.5,309L343.8,305.5ZM396,296.5L397.5,298.5L398,302L396.5,304L398,306.5L397.5,310L397,313L398,317L399,320L400,322.5L397,323L394,322.8L390,322.8L386,322.8L384.8,320L383.5,317.5L383,315.5L384,313L386,311.5L388.5,310.5L390.5,308L392.5,304L394,300ZM442.5,316.5L444,315L446,316.5L449.5,319L453,319.5L456,318.5L459,319L457.5,322L457.8,328L459,332L453,341L450,338.5L446,335.5L442,333L441.5,331.5L441.5,328L442.8,324L443,320ZM410.5,377L416,376L420,375.5L422,378L424,381.5L426.5,385L429,387L426,388.5L423.5,391.5L421,394.5L419,396.5L416,394.5L413.5,396L411,398.5L409,397.5L408,395L408,390L410,386L410.3,382ZM572.4,273L571,269.6L572.4,268L575,265L577,260L580,256L582.4,257L583,261L587,267L590,270L591.6,273L589,276L587,280L585.6,285L587,290L589,296L590,301L589,305L588.4,300L587,294L585,288L583,288L579,287L577,283L574,277Z"/>
<path fill="#FEC44F" d="M419.75,272.25L445.62,272.25L447.25,276.25L449.75,280.62L447,284.5L446.2,287.5L446,290L444.5,294L443,298L441.5,301.5L440.5,299.5L439,297L437.5,297.5L437,300.5L434.5,302.5L432,302L430,304.2L427,304.2L424.5,303L422,302.2L420,303.5L419,306L417.5,304.2L415.5,299.5L414.5,297L414,293L415,289L417,288L417.25,277.25L419.75,276.88ZM371,297L372.5,294.5L374,293L377,293.5L382,294.2L387,294.5L392,294L395.5,294.5L396,296.5L394,300L392.5,304L390.5,308L388.5,310.5L386,311.5L384,313L383,315.5L381,317.2L378,317.5L375.5,316.5L374,314L372,312.5L369.5,312.5L369.5,308L370,304L371,300.5ZM384.8,323.5L388.5,323.5L388.5,326L385.2,326ZM459.5,297L461.5,296.5L462,299.5L460,300ZM430.7,333L433.5,332.5L434,335L432.5,338.5L431.2,336.5ZM420,375.5L423,375L426,373L429,370.5L432,370L436,371.5L438,375L437.8,379L437,383L435,386L432,387L429,387L426.5,385L424,381.5L422,378Z"/>
<path fill="#7F2C05" d="M397.5,268.12L417.25,277.25L417.2,287.5L417,288L415,289L414,293L414.5,297L415.5,299.5L413.5,301L411,303.5L408,305.5L404.5,307L401,308.5L398.5,309L397,305.5L396,303L395,301L398,302L397.5,298.5L396,296.5L395.5,294.5L394,291.25L395,287.5L397.5,283.75L398.12,275L396.88,270.62L394.38,269.38ZM398.5,309L401,308.5L404.5,307L408,305.5L411,303.5L413.5,301L415.5,299.5L417.5,304.2L419,306L420,307.5L422,310L424,313L425.5,315L422,315.5L419,316.5L416,316.5L413,318L410,316.5L407,316.5L405.5,318L403,319.5L400,320L398,317.5L397,314L397.5,311ZM438.2,352.8L440,354L441,357.5L442,361L443.5,364.5L444.5,367L444,370.5L442.5,372L441.5,369.5L441.2,366.5L440,364.5L439,362L439.7,358.5L439.2,355.2Z"/>
<path fill="#EC7014" d="M325,296.8L329,296.3L331.5,297L330.5,298.5L328.5,299.5L326.5,298.5ZM434,331.5L438,332.5L442,333L446,335.5L450,338.5L453,341L452.5,345L453,349L454,354L454.5,356.5L450,358.5L445,359.5L442.5,359.5L441.2,357L440,354L438.2,352.8L434.5,351L432.5,348.5L431,345L431,341L432.5,338.5L434,335Z"/>
<path fill="#CC4C02" d="M333,304.5L335,303L337,302.8L338.5,304.2L338.8,306.5L337.5,308.5L336.5,310L334.5,309L333,307ZM337.5,308.5L338.8,307L340.5,307.5L342,308L343,309L344,312.5L345,315.5L345,317.2L342.5,315.5L339.5,312.5L337,310.2ZM442.5,359.5L445,359.5L450,358.5L454.5,356.5L455.8,356.5L456.2,360L455.8,366L455.5,369L453,372L449,374.5L445,378L442,381L441.5,383L442.5,386L443,389L442.5,392L439.5,394.5L436.5,396L436,399L435.8,399L435,399.2L435,395.5L434.5,391.5L434,387.5L435,386L437,383L437.8,379L438,375L436,371.5L435,370L432.5,368L435,366.2L438,364.5L440,364.5L441.2,366.5L441.5,369.5L442.5,372L444,370.5L444.5,367L443.5,364.5L442,361ZM475.5,360.5L477,362L478,366L477.8,370L476.5,372L475,378L473,384L471,389.5L469,394L465,395.8L462,394.5L461,391L460.8,387L462.5,383L463.8,379L463.5,375L464.5,372L468,370L471,368L473,365L474.5,362.5Z"/>
<path fill="#662506" d="M420,303.5L422,302.2L424.5,303L427,304.2L430,304.2L432,302L434.5,302.5L437,300.5L437.5,297.5L439,297L440.5,299.5L441,304L440.5,307L442,310L444,313.5L442.5,316L440.5,318L437,318.5L433.5,318L430.5,317.5L427.5,317L425.5,315L424,313L422,310L420,307.5L419,306Z"/>
<path fill="#ffffff" d="M421.88,217.5L423.12,213.75L425.62,210.62L427.5,208.12L431.25,209.38L433.75,211.25L436.25,208.12L438.75,206.88L441.25,208.12L440.62,210.62L438.12,211.25L441.25,212.5L445,214.38L448.12,216.88L450,219.38L449.38,221.25L445,221.88L440,221.25L435,220L430,220.62L426.25,221.88L422.5,221.25ZM460.62,211.25L463.12,208.75L466.88,206.88L471.25,206.88L472.5,209.38L469.38,211.25L468.12,213.75L470,216.25L472.5,218.75L475,219.38L478.12,220L477.5,222.5L475,221.88L474.38,223.75L476.25,226.88L478.12,229.38L478.12,231.88L475,232.75L471.25,231.88L468.75,229.38L468.12,225.62L468.75,222.5L466.88,218.75L464.38,216.25L461.88,214.38Z"/>
<path stroke-opacity="0.62" d="M128,151.6L104,173.6M114.4,201.4L170,201.4L174,202L180,203L185,205L189,208L191.6,212L190,215.6L188,219.4L196,217.6L202,215.6L208,213.6L213,211L218,208L222.4,205L224,206.4L224.4,209.6M105,242.4L112,244.4L120,246L125,245.6L130,248L133,253L137,251L140,255L143,260L144.4,261.6M151.5,290L152.5,288.5L154.5,286.5L155,284.5L157.5,284L160,282.5L162,284M160,282.5L160.5,286.5M154,292.2L156,290.5L158.5,290L161.5,288.2M158.5,290L160,292L162,292.5L164,295M170.5,300L169,301.5L167.5,301.5M172.5,303.5L173,307.5M198,298L196,304L198,308L203,310L207,311L207,317L208,322L205,325L201,328L201,336L202,340M223,304L224,309L222,313L225,316L223,318L215,319L213,326L209,327L207,322M225,308L222.4,312.4M225,316L228,324L231,325L237,323L242,323L245,319M230,313L231,324M238,314.4L237.6,323M178,330L182,326L189,329L190,333L186,336L182,340L178,338M189,329L195,334L201,336M202,340L197,342L194,346L193,351L195,355L200,356L205,358L213,356L213,360L214,360L222,364L227,370L231,373L232,379L233,385L238,388L241,393L241.6,397L239,403L236,408L235,415L237,419.6M205,360L205.6,368L204.4,376L205,377L206,386L211,389L209,396L207.6,404L209,412L209.6,420L211,428L212,436L214.4,444L215.6,452L218,459L222,463L227,464.4M213,356L210,358L206,360L205,360M232,379L227,379.6L223,381L221.6,385L219,387L213,387L211,389M221.6,385L224,390L230,393L233,397L235,401L239,400L241.6,397M236,408L247,414M619,323L624,325L630,324L634,319M481.88,280L488.12,276.88L488.75,271.88L488.12,270L481.25,268.75L480,266.25M488.12,270L489.75,266.25L490,262.5M440.62,254.38L443.75,251.88L445.62,248.75L448.12,246.25L452.5,248.12L456.25,250L462.5,252.5L466.25,253.12L470,250.62M466.88,251.25L466.25,253.12M448.12,246.25L449.38,243.75L446.88,244.38L444.38,243.75L443.12,245.62L441.25,249.38L440.62,251.88M440.62,241.25L441.88,241.88L441.25,249.38M449.38,243.75L452.5,241.25L453.12,237.5L452.5,234.38L457.5,232.5L461.25,232.5L461.88,236.25L463.12,240L466.25,243.75L468.75,248.12L470,250.62M461.25,232.5L463.12,231.88L467.5,230.62L471.25,231.88M441.88,235L446.25,233.75L453.12,232.5L457.5,230L458.12,226.88L456.25,223.12L453.75,220L450,219.38M449.38,215.62L455,216.88L461.25,220L463.12,221.25L468.12,225.62M456.25,223.12L460,223.12L463.12,221.25M458.12,226.88L461.25,226.25L465,228.12L468.75,229.38M420,222.5L421.25,219.75L422.5,218.75M495,233.75L496.25,237.5L496.88,242.5L498.12,248.12L502.5,254.38L504.38,258.12L501.25,259.38L501.25,263.12M478.12,231.88L482.5,230L487.5,229.38L492.5,231.88L496.25,235.62M478.12,222.5L481.25,221.25L485,217.5L488.75,218.12L492.5,220L496.25,221.88L500,224.38L503.12,226.88L506.25,228.12L507.5,231.88M478.12,213.12L479.38,211.25L483.75,210L487.5,211.88L491.25,214.38L496.25,216.25L501.25,215.62L505,217.5L507.5,221.25L510,223.12L508.12,225L506.25,228.12M478.12,213.12L479.38,217.5L480.62,221.25M463.12,208.75L460,206.88L457.5,204.38L456.88,200.62L459.38,197.5L462.5,195.62L467.5,194.75L472.5,195.62L478.75,196.25L482.5,196.88L485,195.62L481.88,193.75L481.25,190.62L483.12,188.75L488.75,187.5L495,185.62L500,186.88L505,189.38L511.25,188.12L515,191.25L521.88,195.62L528.75,196.25L535,198.75L539.38,200.25M539.38,200.25L536.88,204.38L533.12,206.25L531.88,210L528.75,212.5L531.25,215.62L530.62,218.12L526.25,221.25L521.88,223.75L520,225.62L521.25,228.12L523.75,230L524.38,231.25L527.5,233.75L531.88,236.25L535,240L536.25,244.38L538.75,247.5L542.5,250L547.5,252.5L552.5,255M510,217.5L515,216.88L522.5,216.25L530.62,216.88M520,225.62L515,226.88L511.25,226.25M524.38,231.25L518.75,231.88L515,230M510,223.12L515,222.5L520,221.25M539.38,200.25L546.25,196.88L552.5,197.5L557.5,198.75L558.12,194.38L563.75,195L570,198.12L575,197.5L581.25,200L586.25,200.62L591.25,198.5L597.5,199.38M539.38,200.25L542.5,203.12L547.5,205.62L550,210L556.25,211.88L562.5,215.62L565,217.25L572.5,217.5L580,218.75L584.38,220.25L590,218.12L594.38,216.88L595,213.12L597.5,211.25L602.5,208.12L607.5,206.5L602.5,203.75L598.12,203.75L597.5,199.38M597.5,199.38L600,196.88L598.75,191.88L602.5,190.25L608.75,191.25L616,196.25L613.75,195L617.5,198.75L623.75,201.25L629.38,204.38L635,203.12L636.88,206.25L636.25,211.25L634.38,213.75L636.88,215.62L638.12,217.5M518,265L514,258L519,255L518,250L522,247L528,243L530,240M507.5,253.75L512.5,255M541,251L549,255L559,258L560,260L550,259L542,255L541,251M562.4,257L568,257L568,259.6L562.4,259.6L562.4,257M561,262L568,261L570,264L571,269.6M561,262L562.4,268L564,272M530,240L536,246L541,251M560,260L562.4,257M568,257L576,253L580,256M580,256L583,261L587,267L590,270L594,270L599,269L604,268L608,274M591.6,273L594,270M599,269L601,272L598,275L601,279L605,283L607,288L608,291L604,291L602,287L598,283L594,283L593,280L591,277L589,276M598,292L604,291L608,291.6L607.6,297L604,301M598,292L597.4,296L598,298M598,283L599,288L598,292M595,316L598,315L600,316M344.18,218.44L347.52,218.86L348.77,220.53L347.94,223.04L347.52,225.13L347.75,227.5L346.88,231.88L345.62,233.12M359.21,215.94L362.56,216.77L365.9,218.02L369.24,218.02M367.99,195.89L370.08,197.56L372.58,199.23L374.25,200.06L376.76,200.9L378.43,202.57L378.01,204.24L376.34,205.49L375.09,207.16L376.34,208.42L377.59,210.09L377.18,212.18L378.43,214.26M370.08,195.05L373.42,195.05L375.51,194.63L375.09,197.14L374.25,200.06M376.76,189.62L376.34,192.13L375.51,194.63M379.68,187.11L382.19,186.7M390.13,188.37L390.96,191.29L391.38,194.21L391.8,195.89L389.29,197.14L387.62,198.81L389.29,200.48L390.96,201.73L389.29,203.4L386.78,204.24L384.28,203.82L381.77,205.08L379.26,204.66L378.01,204.24M381.77,205.08L383.44,205.91L382.61,207.58L380.1,208.42L377.59,209.25L376.34,208.42M383.44,205.91L385.11,206.33L386.78,206.75L390.13,207.16L393.47,207.16L395.97,205.91L397.64,203.82L397.23,201.73L394.3,201.32L390.96,201.73M391.8,195.89L395.14,196.72L398.48,197.97L400.57,199.64L398.48,200.9L397.23,201.73M400.57,199.64L403.49,199.64L406.83,200.06L408.92,198.81L410.18,196.72L409.76,194.21L408.92,190.87L407.67,188.37L403.49,187.53M406.83,200.06L408.09,200.9L406,202.57L402.66,202.99L400.15,203.4L397.64,203.82M408.09,200.9L408.09,202.57L408.92,204.24L406.83,206.75L404.33,208L400.99,208.42L398.48,208L395.97,205.91M390.13,207.16L390.54,210.09M398.48,208L397.64,209.25L394.3,209.67L391.8,209.25L390.54,210.09M395.14,210.92L398.48,210.51L401.82,211.34L402.66,213.43L402.24,215.94L400.15,217.19L397.64,215.1L395.14,212.59L395.14,210.92M400.99,208.42L401.82,211.34M404.33,208L406.83,208.42L407.67,210.92L408.5,214.26L406.83,216.77L404.33,217.19L402.66,215.1M403.75,213.75L406.25,215L408.75,212.5L408.12,208.75L406.25,205M403.12,216.25L405,217.5L406.25,215M405,220.62L406.25,217.5L409.38,216.25L408.75,212.5M408.75,201.88L413.75,202.5L418.75,203.12M408.75,212.5L412.5,213.75L417.5,213.12L422.5,213.12M409.38,216.25L410.62,218.75L415,220L420,218.75M407.5,226.25L408.12,222.5L410.62,221.25L415,220M406.25,217.5L408.12,222.5M408.75,201.88L408.12,198.12M415.47,174.62L414.63,176.71L415.05,180.47L416.72,183.39L420.06,184.23L422.15,184.64L422.99,187.15L424.66,189.24L426.75,191.33L425.08,193.42L429.67,193L430.92,195.09L434.26,197.18L437.61,198.01L440.53,199.26L443.45,200.52L443.87,203.44L441.78,205.53L440.11,207.2M408.37,179.63L411.71,180.05L415.05,180.47M403.35,183.81L407.53,183.81L411.71,184.23L415.05,185.06L416.72,183.39M400.85,187.15L403.35,186.73L405.86,187.57L408.37,189.24L411.29,188.82L412.96,186.73L415.05,185.06M425.08,193.42L423.4,195.51L420.06,195.09L415.89,194.67L411.29,194.25L409.62,193L408.78,190.49L408.37,189.24M409.62,193L410.46,195.92L409.62,198.43L408.37,200.94L411.71,203.44L415.89,203.86L417.56,202.61L420.06,203.86L421.73,206.78L423.82,208.04M417.56,202.61L418.81,205.11L420.9,208.04L422.57,208.87M408.37,200.94L405.03,200.1L401.68,199.26M383.12,178.12L384.38,173.75L384.38,168.75L386.88,162.5L390.62,157.5L396.25,153.75L400,153.12L403.75,154.38L402.5,157.5L405,160.62M403.75,154.38L406.25,151.88L410,151.25L413.12,152.5L415,151.25M413.12,152.5L415,157.5L416.88,162.5L419.38,167.5L416.88,171.25L416.25,173.75M379.38,188.12L381.88,187.5"/>
</g>
<g stroke="#000" stroke-opacity="0.5" stroke-width="0.5" stroke-linejoin="round" fill="none">
<path fill="#FFFFE5" d="M432,397L433.5,395.8L434.8,397L434.8,399.5L433.5,400.5L431.8,399Z"/>
<path fill="#FE9929" d="M422.5,407L425.5,403.8L428,405.5L425.5,409L423.8,409Z"/>
</g>
<rect x="98.4" y="537.2" width="48.2" height="11.3" fill="url(#hatch)" stroke="#bbb" stroke-width="0.6"/>
<line x1="122.5" y1="534" x2="122.5" y2="537.2" stroke="#999" stroke-width="0.6"/>
<rect x="166.0" y="537.2" width="58.6" height="11.3" fill="#662506" stroke="#8a8a8a" stroke-width="0.4"/>
<rect x="224.6" y="537.2" width="58.6" height="11.3" fill="#7F2C05" stroke="#8a8a8a" stroke-width="0.4"/>
<rect x="283.2" y="537.2" width="58.6" height="11.3" fill="#993404" stroke="#8a8a8a" stroke-width="0.4"/>
<rect x="341.8" y="537.2" width="58.6" height="11.3" fill="#CC4C02" stroke="#8a8a8a" stroke-width="0.4"/>
<rect x="400.4" y="537.2" width="58.6" height="11.3" fill="#EC7014" stroke="#8a8a8a" stroke-width="0.4"/>
<rect x="459.0" y="537.2" width="58.6" height="11.3" fill="#FE9929" stroke="#8a8a8a" stroke-width="0.4"/>
<rect x="517.6" y="537.2" width="58.6" height="11.3" fill="#FEC44F" stroke="#8a8a8a" stroke-width="0.4"/>
<rect x="576.2" y="537.2" width="58.6" height="11.3" fill="#FEE391" stroke="#8a8a8a" stroke-width="0.4"/>
<rect x="634.8" y="537.2" width="58.6" height="11.3" fill="#FFF7BC" stroke="#8a8a8a" stroke-width="0.4"/>
<rect x="693.4" y="537.2" width="58.6" height="11.3" fill="#FFFFE5" stroke="#8a8a8a" stroke-width="0.4"/>
<line x1="166.0" y1="534" x2="166.0" y2="548.5" stroke="#8a8a8a" stroke-width="0.6"/>
<text class="lg" x="166.0" y="530.2" text-anchor="middle">0%</text>
<line x1="224.6" y1="534" x2="224.6" y2="548.5" stroke="#8a8a8a" stroke-width="0.6"/>
<text class="lg" x="224.6" y="530.2" text-anchor="middle">10%</text>
<line x1="283.2" y1="534" x2="283.2" y2="548.5" stroke="#8a8a8a" stroke-width="0.6"/>
<text class="lg" x="283.2" y="530.2" text-anchor="middle">20%</text>
<line x1="341.8" y1="534" x2="341.8" y2="548.5" stroke="#8a8a8a" stroke-width="0.6"/>
<text class="lg" x="341.8" y="530.2" text-anchor="middle">30%</text>
<line x1="400.4" y1="534" x2="400.4" y2="548.5" stroke="#8a8a8a" stroke-width="0.6"/>
<text class="lg" x="400.4" y="530.2" text-anchor="middle">40%</text>
<line x1="459.0" y1="534" x2="459.0" y2="548.5" stroke="#8a8a8a" stroke-width="0.6"/>
<text class="lg" x="459.0" y="530.2" text-anchor="middle">50%</text>
<line x1="517.6" y1="534" x2="517.6" y2="548.5" stroke="#8a8a8a" stroke-width="0.6"/>
<text class="lg" x="517.6" y="530.2" text-anchor="middle">60%</text>
<line x1="576.2" y1="534" x2="576.2" y2="548.5" stroke="#8a8a8a" stroke-width="0.6"/>
<text class="lg" x="576.2" y="530.2" text-anchor="middle">70%</text>
<line x1="634.8" y1="534" x2="634.8" y2="548.5" stroke="#8a8a8a" stroke-width="0.6"/>
<text class="lg" x="634.8" y="530.2" text-anchor="middle">80%</text>
<line x1="693.4" y1="534" x2="693.4" y2="548.5" stroke="#8a8a8a" stroke-width="0.6"/>
<text class="lg" x="693.4" y="530.2" text-anchor="middle">90%</text>
<line x1="752.0" y1="534" x2="752.0" y2="548.5" stroke="#8a8a8a" stroke-width="0.6"/>
<text class="lg" x="752.0" y="530.2" text-anchor="middle">100%</text>
<text class="lg" x="122.5" y="530.2" text-anchor="middle">No data</text>
</svg>
<div id="src"><b>Data source:</b> Data compiled from multiple sources by World Bank</div>
<div id="url">OurWorldinData.org/energy | CC BY</div>
</body></html>
